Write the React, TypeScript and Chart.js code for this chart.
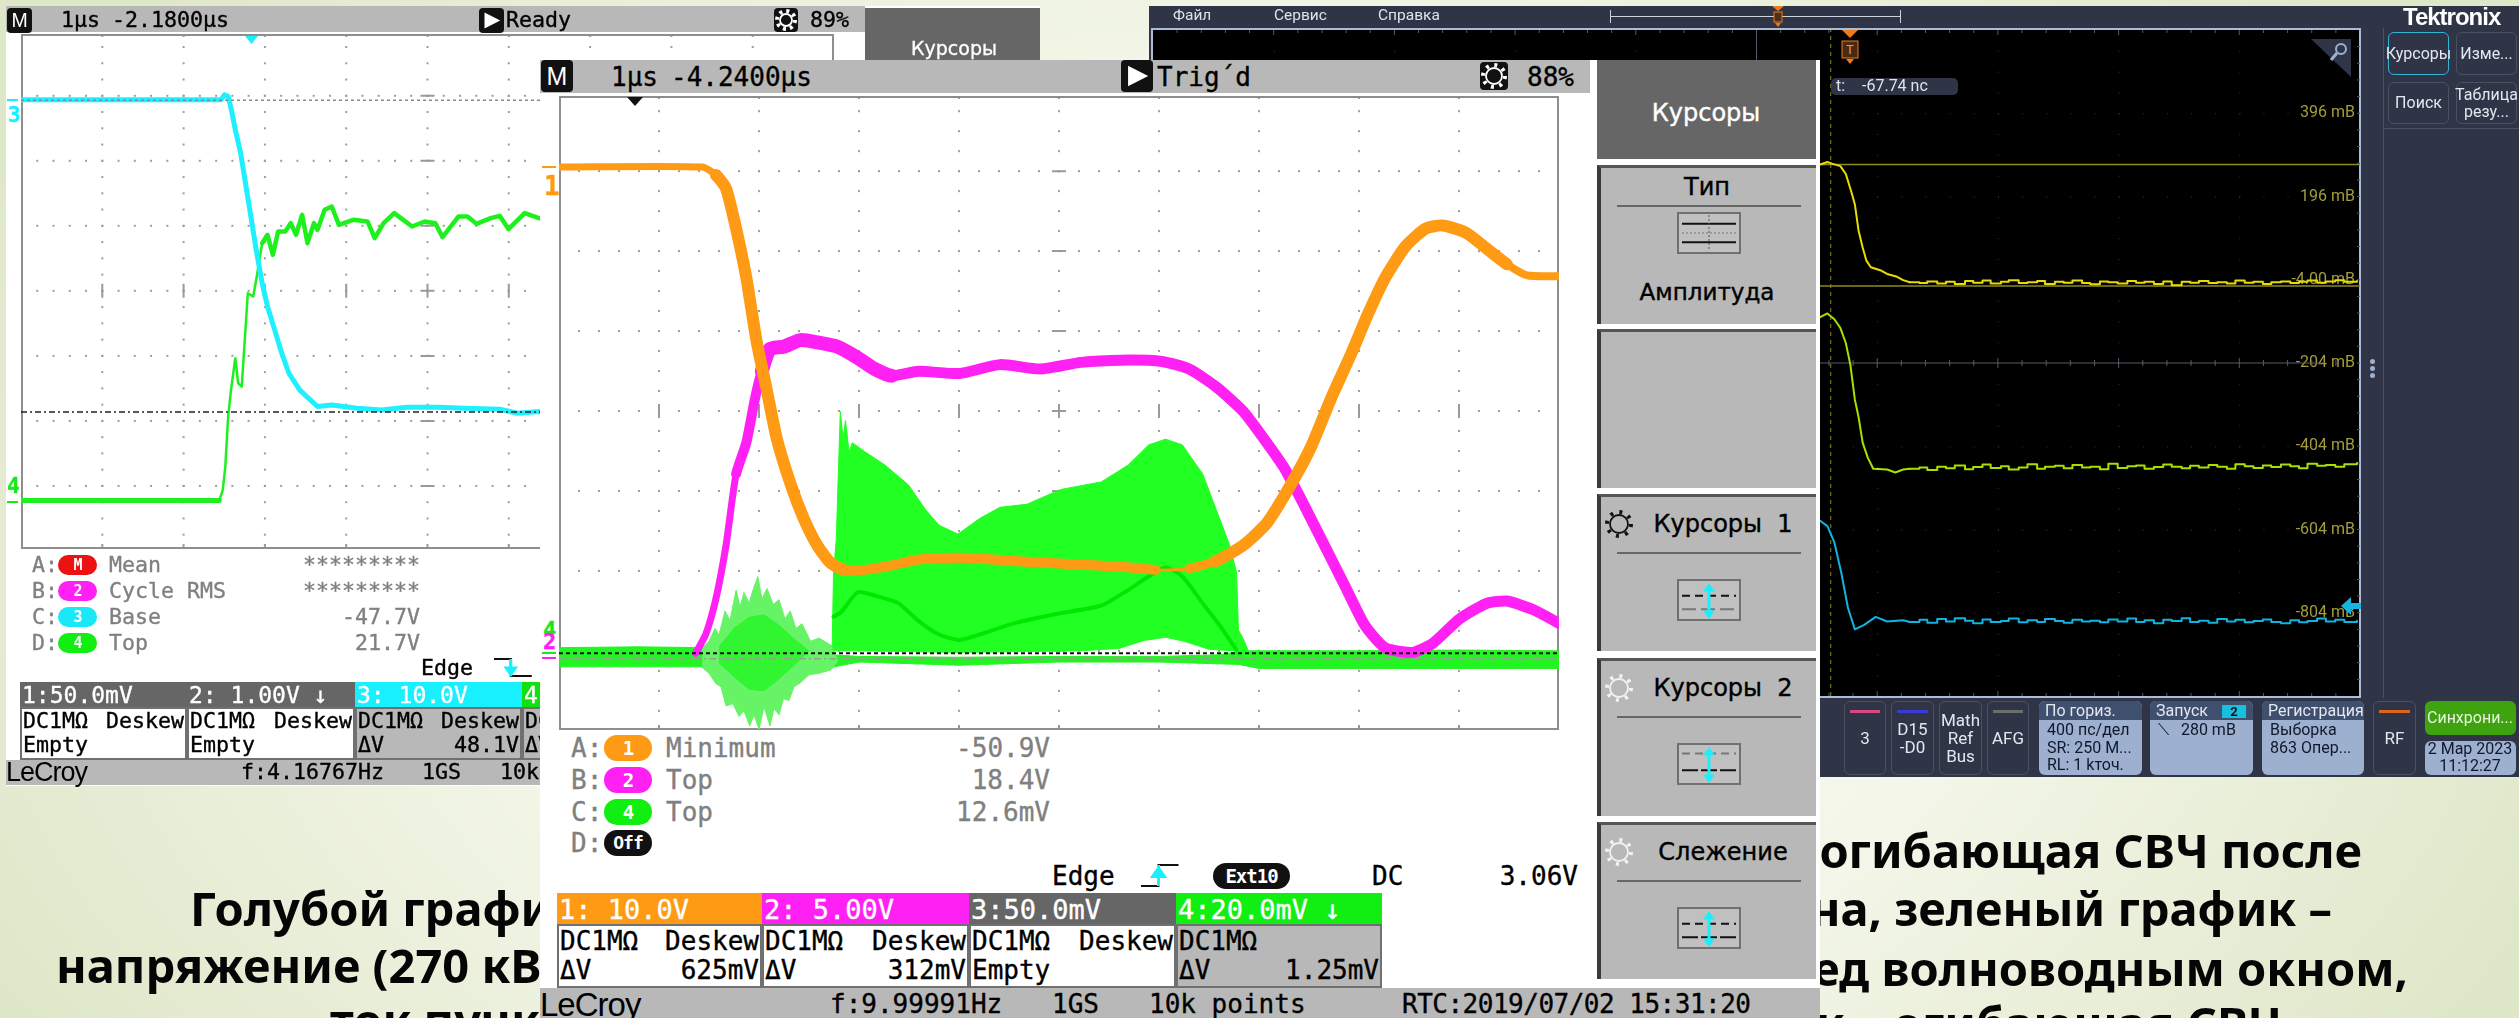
import React, { useEffect, useRef } from "react";
import { Chart, registerables } from "chart.js";
Chart.register(...registerables);

// ---------- left LeCroy scope: x in divisions, y in divisions from screen centre
const leftCyanX = [0, 2.46, 2.504, 2.548, 2.592, 2.636, 2.702, 2.768, 2.834, 2.9, 2.966, 3.032, 3.12, 3.207, 3.295, 3.427, 3.515, 3.647, 3.822, 4.13, 4.438, 4.745, 5.141, 5.448, 5.888, 6.107, 6.38];
const leftCyanY = [2.938, 2.938, 3.015, 2.99, 2.759, 2.477, 2.118, 1.605, 1.092, 0.579, 0.118, -0.241, -0.6, -0.959, -1.267, -1.523, -1.626, -1.779, -1.754, -1.805, -1.831, -1.79, -1.79, -1.805, -1.821, -1.882, -1.856];
const leftGreenX = [0, 2.439, 2.482, 2.513, 2.548, 2.583, 2.636, 2.671, 2.715, 2.75, 2.79, 2.856, 2.9, 2.966, 3.032, 3.098, 3.163, 3.251, 3.317, 3.383, 3.458, 3.524, 3.603, 3.647, 3.735, 3.822, 3.91, 4.086, 4.262, 4.35, 4.46, 4.591, 4.701, 4.811, 4.965, 5.097, 5.185, 5.382, 5.492, 5.602, 5.778, 5.888, 5.997, 6.195, 6.371];
const leftGreenY = [-3.226, -3.226, -3.062, -2.703, -1.933, -1.523, -1.036, -1.421, -1.472, -0.805, -0.036, -0.087, 0.221, 0.733, 0.862, 0.554, 0.913, 0.913, 1.041, 0.862, 1.169, 0.733, 1.041, 0.938, 1.246, 1.297, 1.015, 1.092, 1.067, 0.81, 1.041, 1.195, 1.092, 0.99, 1.067, 1.041, 0.826, 1.144, 1.144, 1.031, 1.118, 1.154, 0.949, 1.195, 1.118];
const leftCursorTop = 2.93;
const leftCursorLow = -1.865;

// ---------- centre LeCroy scope
const orangeX = [0, 1.433, 1.569, 1.67, 1.771, 1.873, 1.974, 2.076, 2.177, 2.312, 2.448, 2.583, 2.718, 2.853, 3.056, 3.327, 3.597, 4.003, 4.544, 5.085, 5.625, 5.963, 6.1, 6.3, 6.572, 6.843, 7.079, 7.316, 7.519, 7.722, 7.924, 8.093, 8.263, 8.465, 8.668, 8.837, 9.074, 9.277, 9.479, 9.682, 10];
const orangeY = [3.052, 3.052, 2.952, 2.785, 2.282, 1.669, 0.887, 0.273, -0.34, -0.898, -1.345, -1.68, -1.903, -1.987, -1.987, -1.931, -1.858, -1.836, -1.875, -1.914, -1.948, -1.987, -1.99, -1.97, -1.875, -1.68, -1.401, -0.926, -0.452, 0.162, 0.72, 1.222, 1.669, 2.059, 2.282, 2.321, 2.227, 2.031, 1.836, 1.696, 1.685];
const pinkX = [1.366, 1.467, 1.569, 1.67, 1.771, 1.873, 1.961, 2.028, 2.11, 2.245, 2.414, 2.583, 2.786, 2.989, 3.158, 3.327, 3.597, 4.003, 4.408, 4.814, 5.22, 5.625, 6.031, 6.302, 6.572, 6.843, 7.045, 7.248, 7.451, 7.654, 7.857, 8.06, 8.263, 8.533, 8.736, 9.006, 9.277, 9.479, 9.75, 10];
const pinkY = [-3.03, -2.796, -2.349, -1.68, -0.787, -0.396, 0.162, 0.497, 0.776, 0.804, 0.887, 0.859, 0.804, 0.664, 0.525, 0.441, 0.497, 0.469, 0.58, 0.525, 0.608, 0.636, 0.619, 0.525, 0.301, -0.006, -0.34, -0.703, -1.177, -1.68, -2.182, -2.684, -2.963, -3.019, -2.907, -2.6, -2.405, -2.377, -2.489, -2.656];
const rfTopX = [2.732, 2.745, 2.772, 2.813, 2.84, 2.865, 2.9, 2.934, 3.056, 3.259, 3.496, 3.665, 3.8, 3.989, 4.206, 4.408, 4.679, 5.017, 5.423, 5.693, 5.896, 6.065, 6.234, 6.437, 6.572, 6.707, 6.775, 6.795, 6.843, 6.91];
const rfTopY = [-2.935, -2.015, -1.624, -0.006, -0.34, -0.12, -0.51, -0.396, -0.508, -0.675, -0.926, -1.233, -1.429, -1.54, -1.345, -1.205, -1.166, -0.982, -0.887, -0.675, -0.424, -0.352, -0.424, -0.787, -1.233, -1.68, -2.015, -2.74, -2.852, -3.05];
const rfLowX = [6.91, 6.75, 6.5, 6.25, 6.065, 5.85, 5.6, 5.2, 4, 3, 2.74];
const rfLowY = [-3.1, -3.0, -2.98, -2.88, -2.83, -2.87, -2.97, -3.0, -3.02, -3.0, -3.0];
const rfMidX = [2.745, 2.82, 2.989, 3.191, 3.394, 3.597, 3.8, 4.003, 4.273, 4.544, 4.949, 5.423, 5.693, 5.896, 6.065, 6.234, 6.437, 6.64, 6.775];
const rfMidY = [-2.573, -2.517, -2.266, -2.321, -2.405, -2.628, -2.796, -2.863, -2.768, -2.656, -2.545, -2.433, -2.238, -2.07, -1.959, -2.07, -2.405, -2.74, -2.991];
const burstTopX = [1.433, 1.5, 1.56, 1.6, 1.66, 1.71, 1.771, 1.81, 1.85, 1.9, 1.95, 1.988, 2.03, 2.08, 2.143, 2.2, 2.26, 2.312, 2.37, 2.43, 2.515, 2.6, 2.732];
const burstTopY = [-2.963, -2.88, -2.72, -2.8, -2.5, -2.62, -2.24, -2.45, -2.27, -2.4, -2.2, -2.07, -2.35, -2.22, -2.42, -2.36, -2.6, -2.5, -2.72, -2.66, -2.88, -2.84, -2.94];
const burstLowX = [2.786, 2.718, 2.6, 2.5, 2.414, 2.35, 2.3, 2.245, 2.2, 2.15, 2.11, 2.05, 2.0, 1.95, 1.907, 1.85, 1.8, 1.74, 1.67, 1.62, 1.569, 1.5, 1.433];
const burstLowY = [-3.13, -3.24, -3.28, -3.3, -3.4, -3.45, -3.62, -3.6, -3.8, -3.72, -3.94, -3.7, -3.98, -3.8, -3.94, -3.75, -3.82, -3.66, -3.69, -3.45, -3.41, -3.28, -3.21];
const burstCoreX = [1.6, 1.75, 1.9, 2.05, 2.2, 2.35, 2.5, 2.35, 2.2, 2.05, 1.9, 1.75, 1.6];
const burstCoreY = [-2.95, -2.72, -2.58, -2.55, -2.68, -2.85, -3.0, -3.18, -3.35, -3.5, -3.48, -3.32, -3.15];
const bandTopX = [0, 0.8, 1.43, 1.5, 2.4, 2.74, 3, 4, 5, 6, 6.6, 6.85, 7, 8, 9, 10];
const bandTopY = [-2.96, -2.95, -2.96, -3.0, -3.02, -3.05, -3.07, -3.08, -3.07, -3.07, -3.05, -3.0, -3.0, -3.0, -2.99, -3.0];
const bandLowX = [10, 8, 7, 6.8, 6, 5, 4, 3, 2.75, 2.6, 2.4, 1.43, 0];
const bandLowY = [-3.22, -3.22, -3.22, -3.17, -3.14, -3.14, -3.18, -3.14, -3.2, -3.26, -3.3, -3.2, -3.2];
const centreCursorA = -3.03;
const centreCursorB = -3.1;

// ---------- Tektronix scope: x in ns, y in mV
const tekYellowX = [-97, -73, -58, -30, -12, 6, 18, 30, 44, 56, 71, 102, 125, 155, 178, 200];
const tekYellowY = [273, 279, 275, 269, 250, 208, 177, 115, 73, 42, 26, 19, 10, 4, -5, -10];
const tekLimeX = [-97, -73, -50, -30, -12, 3, 18, 30, 44, 61, 79, 125, 152, 178, 200];
const tekLimeY = [-94, -85, -99, -120, -156, -208, -292, -333, -396, -432, -458, -460, -467, -460, -458];
const tekBlueX = [-97, -73, -50, -27, -5, 18, 49, 87, 125, 178, 200];
const tekBlueY = [-583, -596, -635, -708, -792, -844, -833, -814, -825, -822, -826];
const tekTailNs = [200, 232, 258, 291, 320, 349, 383, 410, 441, 468, 502, 528, 561, 590, 622, 648, 681, 710, 739, 771, 798, 830, 858, 889, 921, 950, 978, 1009, 1040, 1068, 1101, 1129, 1158, 1190, 1219, 1251, 1279, 1310, 1339, 1370, 1398, 1430, 1461, 1490, 1518, 1550, 1579, 1610, 1640, 1682];
const tekYellowTail = [-10, -12, -8, -13, -9, -14, -7, -11, -6, -13, -9, -5, -12, -10, -7, -14, -9, -11, -6, -12, -15, -8, -10, -13, -7, -11, -9, -14, -8, -17, -9, -11, -7, -12, -10, -13, -6, -11, -9, -14, -10, -8, -12, -9, -6, -11, -8, -5, -9, -7];
const tekLimeTail = [-458, -455, -461, -453, -457, -450, -459, -454, -448, -456, -452, -460, -455, -447, -458, -453, -451, -457, -449, -455, -453, -459, -446, -456, -452, -450, -458, -454, -448, -453, -457, -451, -455, -449, -453, -458, -447, -452, -456, -450, -454, -448, -452, -457, -446, -451, -449, -453, -447, -444];
const tekBlueTail = [-826, -821, -828, -819, -825, -817, -823, -829, -820, -826, -824, -818, -827, -822, -826, -819, -824, -828, -821, -825, -823, -827, -820, -825, -818, -826, -822, -829, -821, -824, -817, -826, -823, -828, -819, -825, -821, -827, -824, -820, -826, -829, -822, -827, -824, -818, -825, -821, -826, -823];
const tekTickLabels = [396, 196, -4, -204, -404, -604, -804];
const tekCursorHigh = 273;
const tekCursorLow = -19;
const tekCursorTime = -62;

const pts = (xs: number[], ys: number[]) => xs.map((x, i) => ({ x, y: ys[i] }));
const MONO = '"DejaVu Sans Mono", monospace';
const TEK = 'Roboto, "Noto Sans", sans-serif';

const lecroyGrid = {
  id: "lecroyGrid",
  beforeDatasetsDraw(chart: any) {
    const { ctx, chartArea: a, scales } = chart;
    const { x, y } = scales;
    ctx.save();
    ctx.fillStyle = "#9d9d9d";
    for (let i = 1; i < 10; i++) {
      const px = x.getPixelForValue(i);
      for (let j = -16; j <= 16; j++) {
        const py = y.getPixelForValue(j / 4);
        if (py > a.top + 1 && py < a.bottom - 1) ctx.fillRect(px - 1, py - 1, 2, 2);
      }
    }
    for (let j = -4; j <= 4; j++) {
      const py = y.getPixelForValue(j);
      if (py < a.top + 2 || py > a.bottom - 2) continue;
      for (let i = 1; i < 50; i++) ctx.fillRect(x.getPixelForValue(i / 5) - 1, py - 1, 2, 2);
    }
    ctx.strokeStyle = "#9a9a9a";
    ctx.lineWidth = 2;
    ctx.beginPath();
    for (let i = 1; i < 10; i++) {
      const px = x.getPixelForValue(i);
      const py = y.getPixelForValue(0);
      ctx.moveTo(px, py - 7);
      ctx.lineTo(px, py + 7);
    }
    for (let j = -3; j <= 3; j++) {
      const px = x.getPixelForValue(5);
      const py = y.getPixelForValue(j);
      ctx.moveTo(px - 7, py);
      ctx.lineTo(px + 7, py);
    }
    for (let i = 1; i < 10; i++) {
      const px = x.getPixelForValue(i);
      ctx.moveTo(px, a.bottom - 5);
      ctx.lineTo(px, a.bottom);
      ctx.moveTo(px, a.top);
      ctx.lineTo(px, a.top + 3);
    }
    ctx.stroke();
    ctx.strokeStyle = "#8e8e8e";
    ctx.strokeRect(a.left + 1, a.top + 1, a.right - a.left - 2, a.bottom - a.top - 2);
    ctx.restore();
  },
};

const tekGrid = {
  id: "tekGrid",
  beforeDatasetsDraw(chart: any) {
    const { ctx, chartArea: a } = chart;
    const X = (d: number) => a.left + ((a.right - a.left) * d) / 10;
    const Y = (d: number) => a.top + ((a.bottom - a.top) * d) / 8;
    ctx.save();
    ctx.fillStyle = "#3a3a3a";
    for (let i = 1; i < 10; i++) for (let j = 1; j < 32; j++) ctx.fillRect(X(i), Y(j / 4), 1, 1);
    for (let j = 1; j < 8; j++) for (let i = 1; i < 50; i++) ctx.fillRect(X(i / 5), Y(j), 1, 1);
    ctx.strokeStyle = "#555a66";
    ctx.lineWidth = 1;
    ctx.beginPath();
    ctx.moveTo(a.left, Y(4));
    ctx.lineTo(X(9.7), Y(4));
    ctx.moveTo(X(5), a.top);
    ctx.lineTo(X(5), a.bottom);
    for (let i = 1; i < 50; i++) {
      const h = i % 5 === 0 ? 5 : 3;
      ctx.moveTo(X(i / 5), Y(4) - h);
      ctx.lineTo(X(i / 5), Y(4) + h);
      ctx.moveTo(X(i / 5), a.top);
      ctx.lineTo(X(i / 5), a.top + h);
      ctx.moveTo(X(i / 5), a.bottom);
      ctx.lineTo(X(i / 5), a.bottom - h);
    }
    for (let j = 1; j < 40; j++) {
      ctx.moveTo(a.right, Y(j / 5));
      ctx.lineTo(a.right - 3, Y(j / 5));
    }
    ctx.stroke();
    ctx.restore();
  },
};

const line = (data: any[], color: string, width: number, extra: any = {}) => ({
  type: "scatter",
  data,
  showLine: true,
  borderColor: color,
  backgroundColor: color,
  borderWidth: width,
  borderCapStyle: "round",
  borderJoinStyle: "round",
  pointRadius: 0,
  fill: false,
  ...extra,
});

const shape = (data: any[], color: string) => ({
  type: "scatter",
  data,
  showLine: true,
  borderColor: color,
  backgroundColor: color,
  borderWidth: 1,
  pointRadius: 0,
  fill: "shape",
});

const baseOptions = (xMin: number, xMax: number, yMin: number, yMax: number): any => ({
  animation: false,
  responsive: false,
  events: [],
  layout: { padding: 0 },
  plugins: { legend: { display: false }, tooltip: { enabled: false } },
  scales: {
    x: { type: "linear", min: xMin, max: xMax, display: false },
    y: { type: "linear", min: yMin, max: yMax, display: false },
  },
});

function Plot({ x, y, w, h, build }: { x: number; y: number; w: number; h: number; build: () => any }) {
  const ref = useRef<HTMLCanvasElement>(null);
  useEffect(() => {
    const c = new Chart(ref.current as any, build());
    return () => c.destroy();
  }, []);
  return <canvas ref={ref} width={w} height={h} style={{ position: "absolute", left: x, top: y, width: w, height: h }} />;
}

const buildLeft = () => ({
  type: "scatter",
  data: {
    datasets: [
      line([{ x: 0, y: leftCursorLow }, { x: 10, y: leftCursorLow }], "#222222", 1.5, { borderDash: [6, 3, 2, 3], borderCapStyle: "butt" }),
      line([{ x: 0, y: leftCursorTop }, { x: 10, y: leftCursorTop }], "#8a8a8a", 1.5, { borderDash: [3, 3], borderCapStyle: "butt" }),
      line(pts(leftCyanX, leftCyanY), "#1ff0ff", 5),
      line(pts(leftGreenX, leftGreenY), "#1ef01e", 4, {
        segment: { borderWidth: (c: any) => (c.p0.parsed.x < 2.42 ? 5 : c.p0.parsed.x < 2.95 ? 2.5 : 4.5) },
      }),
    ],
  },
  options: baseOptions(0, 10, -3.97, 3.95),
  plugins: [lecroyGrid],
});

const orangeWidth = (c: any) => {
  const x = c.p0.parsed.x;
  if (x < 1.5) return 7;
  if (x < 2.72) return 12;
  if (x < 5.9) return 10;
  if (x < 6.3) return 3;
  if (x < 6.55) return 9;
  if (x < 9.4) return 12;
  return 8;
};
const pinkWidth = (c: any) => {
  const x = c.p0.parsed.x;
  if (x < 1.7) return 7;
  if (x < 2.0) return 10;
  if (x < 3.2) return 14;
  return 11;
};

const buildCentre = () => ({
  type: "scatter",
  data: {
    datasets: [
      line([{ x: 0, y: centreCursorA }, { x: 10, y: centreCursorA }], "#111111", 2, { borderDash: [4, 3], borderCapStyle: "butt" }),
      line([{ x: 0, y: centreCursorB }, { x: 10, y: centreCursorB }], "#9a9a9a", 1.5, { borderDash: [7, 3, 2, 3], borderCapStyle: "butt" }),
      line(pts(orangeX, orangeY), "#ff9a14", 10, { tension: 0.2, segment: { borderWidth: orangeWidth } }),
      line(pts(pinkX, pinkY), "#ff20f4", 11, { tension: 0.2, segment: { borderWidth: pinkWidth } }),
      line(pts(rfMidX, rfMidY), "#00e800", 4, { tension: 0.2 }),
      shape([...pts(rfTopX, rfTopY), ...pts(rfLowX, rfLowY)], "#22ff22"),
      shape([...pts(burstCoreX, burstCoreY)], "#30f530"),
      shape([...pts(burstTopX, burstTopY), ...pts(burstLowX, burstLowY)], "#66f366"),
      shape([...pts(bandTopX, bandTopY), ...pts(bandLowX, bandLowY)], "#22f522"),
    ],
  },
  options: baseOptions(0, 10, -3.99, 3.94),
  plugins: [lecroyGrid],
});

const buildTek = () => {
  const o = baseOptions(-2308, 1692, -1004, 596);
  o.scales.y = {
    type: "linear",
    min: -1004,
    max: 596,
    position: "right",
    display: true,
    border: { display: false },
    grid: { display: false, drawTicks: false },
    afterFit: (s: any) => {
      s.width = 0;
      s.paddingTop = 0;
      s.paddingBottom = 0;
    },
    afterBuildTicks: (s: any) => {
      s.ticks = tekTickLabels.map((value) => ({ value }));
    },
    ticks: {
      mirror: true,
      padding: -5,
      color: "#a39d3c",
      autoSkip: false,
      font: { family: "Roboto", size: 16 },
      callback: (v: number) => `${v === -4 ? "-4.00" : v} mB`,
    },
  };
  return {
    type: "scatter",
    data: {
      datasets: [
        line(pts(tekYellowX, tekYellowY), "#e8dc00", 2),
        line(pts(tekTailNs, tekYellowTail), "#e8dc00", 2, { stepped: true }),
        line(pts(tekLimeX, tekLimeY), "#a8e000", 2),
        line(pts(tekTailNs, tekLimeTail), "#a8e000", 2, { stepped: true }),
        line(pts(tekBlueX, tekBlueY), "#10b4e0", 2),
        line(pts(tekTailNs, tekBlueTail), "#10b4e0", 2, { stepped: true }),
        line([{ x: -2308, y: tekCursorHigh }, { x: 1692, y: tekCursorHigh }], "#8d8a1e", 1.5),
        line([{ x: -2308, y: tekCursorLow }, { x: 1692, y: tekCursorLow }], "#8d8a1e", 1.5),
        line([{ x: tekCursorTime, y: -1004 }, { x: tekCursorTime, y: 596 }], "#8d8a1e", 1, { borderDash: [4, 4], borderCapStyle: "butt" }),
      ],
    },
    options: o,
    plugins: [tekGrid],
  };
};

function T({ x, y, s, c = "#000", f = MONO, w = 400, end, mid, children, extra }: any) {
  const tx = end ? "-100%" : mid ? "-50%" : "0";
  return (
    <div
      style={{
        position: "absolute",
        left: x,
        top: y,
        fontFamily: f,
        fontSize: s,
        fontWeight: w,
        color: c,
        lineHeight: 1,
        whiteSpace: "pre",
        transform: `translate(${tx},-50%)`,
        WebkitTextStroke: f === MONO ? "0.35px" : undefined,
        ...extra,
      }}
    >
      {children}
    </div>
  );
}

const Box = ({ x, y, w, h, c, extra, children }: any) => (
  <div style={{ position: "absolute", left: x, top: y, width: w, height: h, background: c, ...extra }}>{children}</div>
);

const MButton = ({ x, y, s }: any) => (
  <Box x={x} y={y} w={s} h={s} c="#111" extra={{ borderRadius: 4, color: "#fff", fontFamily: "Liberation Sans", fontSize: s * 0.78, textAlign: "center", lineHeight: `${s}px` }}>
    M
  </Box>
);

const PlayButton = ({ x, y, s }: any) => (
  <Box x={x} y={y} w={s} h={s} c="#111" extra={{ borderRadius: 4 }}>
    <svg width={s} height={s}>
      <polygon points={`${s * 0.22},${s * 0.18} ${s * 0.22},${s * 0.82} ${s * 0.85},${s * 0.5}`} fill="#fff" />
    </svg>
  </Box>
);

const Gear = ({ x, y, r, c, bg }: any) => (
  <svg style={{ position: "absolute", left: x - r - 4, top: y - r - 4 }} width={2 * r + 8} height={2 * r + 8}>
    {bg && <rect width={2 * r + 8} height={2 * r + 8} rx={4} fill={bg} />}
    <circle cx={r + 4} cy={r + 4} r={r - 2} fill="none" stroke={c} strokeWidth={1.8} />
    <circle cx={r + 4} cy={r + 4} r={r + 1} fill="none" stroke={c} strokeWidth={4} strokeDasharray={`3 ${(2 * Math.PI * (r + 1)) / 8 - 3}`} />
  </svg>
);

const Pill = ({ x, y, w, h, c, t, s }: any) => (
  <Box x={x} y={y} w={w} h={h} c={c} extra={{ borderRadius: h / 2, color: "#fff", fontFamily: MONO, fontSize: s, textAlign: "center", lineHeight: `${h}px`, fontWeight: 700, letterSpacing: -1 }}>
    {t}
  </Box>
);

const Trig = ({ x, y, falling, s }: any) => (
  <svg style={{ position: "absolute", left: x, top: y }} width={s * 1.8} height={s}>
    <path d={falling ? `M0 2 H${s * 0.8} V${s - 2} H${s * 1.8}` : `M0 ${s - 2} H${s * 0.7} V2 H${s * 1.5}`} stroke="#111" strokeWidth={2} fill="none" />
    <polygon points={falling ? `${s * 0.45},${s * 0.45} ${s * 1.15},${s * 0.45} ${s * 0.8},${s * 0.95}` : `${s * 0.35},${s * 0.6} ${s * 1.05},${s * 0.6} ${s * 0.7},${s * 0.1}`} fill="#18f0ff" />
    <line x1={s * (falling ? 0.8 : 0.7)} x2={s * (falling ? 0.8 : 0.7)} y1={2} y2={s - 2} stroke="#18f0ff" strokeWidth={3} />
  </svg>
);

function ChannelTable({ cols, xs, yH, yB, yE, s, fs }: any) {
  return (
    <>
      {cols.map((c: any, i: number) => (
        <React.Fragment key={i}>
          <Box x={xs[i]} y={yH} w={xs[i + 1] - xs[i]} h={yB - yH} c={c.head} />
          <Box x={xs[i]} y={yB} w={xs[i + 1] - xs[i]} h={yE - yB} c={c.body} extra={{ boxSizing: "border-box", border: "2px solid #707070" }} />
          <T x={xs[i] + 2} y={yH + (yB - yH) / 2} s={fs} c="#fff">{c.title}</T>
          <T x={xs[i] + 3} y={yB + (yE - yB) * 0.27} s={s}>DC1MΩ</T>
          {c.deskew && <T x={xs[i + 1] - 3} y={yB + (yE - yB) * 0.27} s={s} end>Deskew</T>}
          <T x={xs[i] + 3} y={yB + (yE - yB) * 0.72} s={s}>{c.a}</T>
          {c.b && <T x={xs[i + 1] - 3} y={yB + (yE - yB) * 0.72} s={s} end>{c.b}</T>}
        </React.Fragment>
      ))}
    </>
  );
}

function MiniIcon({ x, y, w, h, kind }: any) {
  return (
    <svg style={{ position: "absolute", left: x, top: y }} width={w} height={h}>
      <rect x={1} y={1} width={w - 2} height={h - 2} fill="#c0c0c0" stroke="#707070" strokeWidth={2} />
      {kind === "type" && (
        <>
          <line x1={5} x2={w - 5} y1={h * 0.28} y2={h * 0.28} stroke="#111" strokeWidth={2} />
          <line x1={5} x2={w - 5} y1={h * 0.72} y2={h * 0.72} stroke="#111" strokeWidth={2} />
          <line x1={5} x2={w - 5} y1={h * 0.5} y2={h * 0.5} stroke="#777" strokeDasharray="2 2" />
          <line x1={w / 2} x2={w / 2} y1={3} y2={h - 3} stroke="#555" strokeDasharray="2 2" />
        </>
      )}
      {kind !== "type" && (
        <>
          <line x1={5} x2={w - 5} y1={h * (kind === 2 ? 0.25 : 0.4)} y2={h * (kind === 2 ? 0.25 : 0.4)} stroke={kind === 2 ? "#777" : "#111"} strokeWidth={2} strokeDasharray="8 5" />
          <line x1={5} x2={w - 5} y1={h * (kind === 2 ? 0.65 : 0.72)} y2={h * (kind === 2 ? 0.65 : 0.72)} stroke={kind === 1 ? "#777" : "#111"} strokeWidth={2} strokeDasharray={kind === 1 ? "14 5" : "16 3"} />
          <line x1={w / 2} x2={w / 2} y1={h * 0.2} y2={h * 0.85} stroke="#18f0ff" strokeWidth={3} />
          <polygon points={`${w / 2 - 6},${h * 0.3} ${w / 2 + 6},${h * 0.3} ${w / 2},${h * 0.1}`} fill="#18f0ff" />
          <polygon points={`${w / 2 - 6},${h * 0.75} ${w / 2 + 6},${h * 0.75} ${w / 2},${h * 0.95}`} fill="#18f0ff" />
        </>
      )}
    </svg>
  );
}

function Panel({ y1, y2, title, icon, under, gear }: any) {
  const x = 1597;
  const w = 219;
  const stroke = { WebkitTextStroke: "0.4px" };
  return (
    <>
      <Box x={x} y={y1} w={w} h={y2 - y1} c="#b8b8b8" extra={{ borderLeft: "4px solid #3a3a3a", borderTop: "3px solid #555", boxSizing: "border-box" }} />
      {title && <T x={gear ? x + 126 : x + 110} y={y1 + (gear ? 30 : 22)} s={24} f='"DejaVu Sans"' extra={stroke} mid>{title}</T>}
      {icon && <Box x={x + 20} y={y1 + (gear ? 58 : 40)} w={184} h={2} c="#666" />}
      {icon && <MiniIcon x={x + 80} y={y1 + (gear ? 85 : 47)} w={64} h={42} kind={icon} />}
      {under && <T x={x + 110} y={y1 + 127} s={23} f='"DejaVu Sans"' extra={stroke} mid>{under}</T>}
      {gear && <Gear x={x + 22} y={y1 + 30} r={11} c={gear} />}
    </>
  );
}

function TekBtn({ x1, x2, y1, y2, line: lc, lines, border = "#4a5163", s = 16 }: any) {
  return (
    <>
      <Box x={x1} y={y1} w={x2 - x1} h={y2 - y1} c="transparent" extra={{ boxSizing: "border-box", border: `1px solid ${border}`, borderRadius: 6 }} />
      {lc && <Box x={x1 + 6} y={y1 + 9} w={x2 - x1 - 12} h={3} c={lc} />}
      {lines.map((t: string, i: number) => (
        <T key={i} x={(x1 + x2) / 2} y={(y1 + y2) / 2 + (i - (lines.length - 1) / 2) * (s + 1)} s={s} c="#e3e7ef" f={TEK} mid>{t}</T>
      ))}
    </>
  );
}

function TekCard({ x1, x2, title, lines, badge }: any) {
  return (
    <>
      <Box x={x1} y={701} w={x2 - x1} h={74} c="#9db0d0" extra={{ borderRadius: 6 }} />
      <Box x={x1} y={701} w={x2 - x1} h={19} c="#3f4f6e" extra={{ borderRadius: "6px 6px 0 0" }} />
      <T x={x1 + 6} y={711} s={16} c="#e3e7ef" f={TEK}>{title}</T>
      {badge && <Box x={x2 - 31} y={705} w={24} h={13} c="#18c0de" extra={{ color: "#111", fontFamily: TEK, fontSize: 13, textAlign: "center", lineHeight: "13px", fontWeight: 700 }}>{badge}</Box>}
      {lines.map((t: string, i: number) => (
        <T key={i} x={x1 + 8} y={730 + i * 17.5} s={16} c="#10182c" f={TEK}>{t}</T>
      ))}
    </>
  );
}

export default function App() {
  const bold = { s: 47, f: '"Noto Sans", sans-serif', w: 700, c: "#050505" };
  return (
    <div
      style={{
        position: "fixed",
        left: 0,
        top: 0,
        width: 2519,
        height: 1018,
        overflow: "hidden",
        background: "radial-gradient(ellipse 1400px 900px at 1240px 560px, #f8faf2 0%, #f3f6e8 55%, #dfe7c9 100%)",
      }}
    >
      {/* caption text */}
      <T x={190} y={908} {...bold}>Голубой график</T>
      <T x={56} y={965} {...bold}>напряжение (270 кВ</T>
      <T x={330} y={1020} {...bold}>ток пучка</T>
      <T x={2362} y={850} {...bold} end>огибающая СВЧ после</T>
      <T x={2332} y={908} {...bold} end>на, зеленый график –</T>
      <T x={2408} y={968} {...bold} end>ед волноводным окном,</T>
      <T x={2282} y={1023} {...bold} end>к – огибающая СВЧ</T>

      {/* Tektronix */}
      <Box x={1149} y={6} w={1370} h={771} c="#2f3547" />
      <Box x={1151} y={28} w={1210} h={670} c="#000" extra={{ boxSizing: "border-box", border: "2px solid #a9bcd8" }} />
      <Plot x={1153} y={30} w={1207} h={666} build={buildTek} />
      <T x={1173} y={16} s={15.5} c="#dfe3ea" f={TEK}>Файл</T>
      <T x={1274} y={16} s={15.5} c="#dfe3ea" f={TEK}>Сервис</T>
      <T x={1378} y={16} s={15.5} c="#dfe3ea" f={TEK}>Справка</T>
      <Box x={1610} y={16} w={291} h={1} c="#cdd3de" />
      <Box x={1610} y={10} w={1} h={13} c="#cdd3de" />
      <Box x={1900} y={10} w={1} h={13} c="#cdd3de" />
      <svg style={{ position: "absolute", left: 1771, top: 6 }} width={14} height={22}>
        <polygon points="1,0 13,0 7,5" fill="#ef7a1a" />
        <rect x={3} y={6} width={8} height={10} fill="#50301a" stroke="#ef7a1a" />
        <polygon points="4,17 10,17 7,21" fill="#ef7a1a" />
      </svg>
      <svg style={{ position: "absolute", left: 1841, top: 30 }} width={18} height={36}>
        <polygon points="1,0 17,0 9,8" fill="#ef7a1a" />
        <rect x={1} y={11} width={16} height={17} fill="#4a2a10" stroke="#ef7a1a" />
        <text x={9} y={24} fontSize={13} textAnchor="middle" fill="#ef9a3a" fontFamily="Roboto">T</text>
        <polygon points="5,29 13,29 9,34" fill="#ef7a1a" />
      </svg>
      <Box x={1831} y={78} w={127} h={17} c="#2f3547" extra={{ borderRadius: 5 }} />
      <T x={1836} y={86} s={16} c="#dfe3ea" f={TEK}>t:</T>
      <T x={1862} y={86} s={16} c="#dfe3ea" f={TEK}>-67.74 nc</T>
      <svg style={{ position: "absolute", left: 2311, top: 39 }} width={40} height={38}>
        <polygon points="0,0 40,0 40,38" fill="#2f3547" />
        <circle cx={30} cy={10} r={5} fill="none" stroke="#9db0d0" strokeWidth={2} />
        <line x1={26} y1={14} x2={20} y2={21} stroke="#9db0d0" strokeWidth={3} />
      </svg>
      <svg style={{ position: "absolute", left: 2341, top: 596 }} width={20} height={20}>
        <polygon points="0,10 10,1 10,7 20,7 20,13 10,13 10,19" fill="#18b4e0" />
      </svg>
      <T x={2403} y={17} s={24} c="#fff" f='"Liberation Sans"' w={700} extra={{ letterSpacing: -1 }}>Tektronix</T>
      <Box x={2383} y={28} w={1} h={670} c="#4a5163" />
      <Box x={2384} y={128} w={135} h={1} c="#4a5163" />
      <Box x={2370} y={359} w={5} h={5} c="#9db0d0" extra={{ borderRadius: 3 }} />
      <Box x={2370} y={366} w={5} h={5} c="#9db0d0" extra={{ borderRadius: 3 }} />
      <Box x={2370} y={373} w={5} h={5} c="#9db0d0" extra={{ borderRadius: 3 }} />
      <TekBtn x1={2388} x2={2449} y1={32} y2={75} lines={["Курсоры"]} border="#2fb4d8" />
      <TekBtn x1={2456} x2={2517} y1={32} y2={75} lines={["Изме..."]} />
      <TekBtn x1={2388} x2={2449} y1={82} y2={124} lines={["Поиск"]} />
      <TekBtn x1={2456} x2={2517} y1={82} y2={124} lines={["Таблица", "резу..."]} />
      <TekBtn x1={1844} x2={1886} y1={701} y2={775} line="#d8487e" lines={["3"]} s={17} />
      <TekBtn x1={1891} x2={1934} y1={701} y2={775} line="#3a3ad8" lines={["D15", "-D0"]} s={17} />
      <TekBtn x1={1939} x2={1982} y1={701} y2={775} lines={["Math", "Ref", "Bus"]} s={17} />
      <TekBtn x1={1987} x2={2029} y1={701} y2={775} line="#6b6f6a" lines={["AFG"]} s={17} />
      <TekCard x1={2039} x2={2142} title="По гориз." lines={["400 пс/дел", "SR: 250 М...", "RL: 1 kточ."]} />
      <TekCard x1={2150} x2={2253} title="Запуск" lines={["⟍   280 mB"]} badge="2" />
      <TekCard x1={2262} x2={2364} title="Регистрация" lines={["Выборка", "863 Опер..."]} />
      <TekBtn x1={2373} x2={2416} y1={701} y2={775} line="#e0641c" lines={["RF"]} s={17} />
      <Box x={2425} y={701} w={91} h={34} c="#3fa30f" extra={{ borderRadius: 6 }} />
      <T x={2470} y={718} s={16} c="#e8f5e0" f={TEK} mid>Синхрони...</T>
      <Box x={2425} y={741} w={91} h={34} c="#9db0d0" extra={{ borderRadius: 6 }} />
      <T x={2470} y={749} s={16} c="#10182c" f={TEK} mid>2 Мар 2023</T>
      <T x={2470} y={766} s={16} c="#10182c" f={TEK} mid>11:12:27</T>

      {/* left LeCroy */}
      <Box x={6} y={6} w={1034} h={780} c="#fff" />
      <Box x={6} y={6} w={859} h={26} c="#b8b8b8" />
      <Box x={865} y={8} w={175} h={55} c="#666" />
      <T x={954} y={48} s={19} c="#fff" f='"DejaVu Sans"' extra={{ WebkitTextStroke: "0.3px" }} mid>Курсоры</T>
      <MButton x={7} y={8} s={25} />
      <T x={61} y={20} s={21.6}>1µs</T>
      <T x={112} y={20} s={21.6}>-2.1800µs</T>
      <PlayButton x={479} y={8} s={25} />
      <T x={506} y={20} s={21.6}>Ready</T>
      <Gear x={786} y={20} r={8} c="#fff" bg="#111" />
      <T x={810} y={20} s={21.6}>89%</T>
      <Plot x={21} y={34} w={813} h={515} build={buildLeft} />
      <svg style={{ position: "absolute", left: 245, top: 36 }} width={13} height={9}><polygon points="0,0 13,0 6.5,8" fill="#18f0ff" /></svg>
      <Box x={7} y={99} w={11} h={2} c="#18f0ff" />
      <T x={8} y={115} s={21} c="#18f0ff" w={700}>3</T>
      <T x={7} y={486} s={21} c="#18e818" w={700}>4</T>
      <Box x={7} y={501} w={11} h={2} c="#18e818" />
      {[
        ["A:", "#ee1111", "M", "Mean", "*********", 565],
        ["B:", "#ff20f4", "2", "Cycle RMS", "*********", 591],
        ["C:", "#18e8f8", "3", "Base", "-47.7V", 617],
        ["D:", "#11ee11", "4", "Top", "21.7V", 643],
      ].map((r: any) => (
        <React.Fragment key={r[0]}>
          <T x={32} y={r[5]} s={21.6} c="#808080">{r[0]}</T>
          <Pill x={58} y={r[5] - 10} w={39} h={20} c={r[1]} t={r[2]} s={15} />
          <T x={109} y={r[5]} s={21.6} c="#808080">{r[3]}</T>
          <T x={420} y={r[5]} s={21.6} c="#808080" end>{r[4]}</T>
        </React.Fragment>
      ))}
      <T x={421} y={668} s={21.6}>Edge</T>
      <Trig x={494} y={657} s={21} falling />
      <ChannelTable
        xs={[20, 187, 355, 522, 689]}
        yH={682}
        yB={707}
        yE={760}
        s={21.6}
        fs={23}
        cols={[
          { head: "#666", body: "#fff", title: "1:50.0mV", a: "Empty", deskew: true },
          { head: "#666", body: "#fff", title: "2: 1.00V ↓", a: "Empty", deskew: true },
          { head: "#18f0ff", body: "#b8b8b8", title: "3: 10.0V", a: "ΔV", b: "48.1V", deskew: true },
          { head: "#11e011", body: "#b8b8b8", title: "4: 20.0mV", a: "ΔV" },
        ]}
      />
      <Box x={6} y={760} w={534} h={25} c="#b8b8b8" />
      <T x={6} y={772} s={27} f='"Liberation Sans"' extra={{ letterSpacing: -1 }}>LeCroy</T>
      <T x={241} y={772} s={21.6}>f:4.16767Hz</T>
      <T x={422} y={772} s={21.6}>1GS</T>
      <T x={500} y={772} s={21.6}>10k</T>

      {/* centre LeCroy */}
      <Box x={540} y={60} w={1280} h={958} c="#fff" />
      <Box x={540} y={60} w={1050} h={33} c="#b8b8b8" />
      <MButton x={541} y={60} s={32} />
      <T x={611} y={77} s={26}>1µs</T>
      <T x={671} y={77} s={26}>-4.2400µs</T>
      <PlayButton x={1121} y={60} s={32} />
      <T x={1157} y={77} s={26}>Trig´d</T>
      <Gear x={1494} y={76} r={10} c="#fff" bg="#111" />
      <T x={1527} y={77} s={26}>88%</T>
      <Plot x={559} y={96} w={1000} h={634} build={buildCentre} />
      <svg style={{ position: "absolute", left: 627, top: 97 }} width={16} height={10}><polygon points="0,0 16,0 8,9" fill="#111" /></svg>
      <Box x={542} y={166} w={14} h={2} c="#ff9a14" />
      <T x={544} y={186} s={26} c="#ff9a14" w={700}>1</T>
      <T x={543} y={630} s={22} c="#18e818" w={700}>4</T>
      <T x={543} y={642} s={22} c="#ff20f4" w={700}>2</T>
      <Box x={542} y={652} w={14} h={2} c="#18e818" />
      <Box x={542} y={657} w={14} h={2} c="#ff20f4" />
      {[
        ["A:", "#ff9a14", "1", "Minimum", "-50.9V", 748],
        ["B:", "#ff20f4", "2", "Top", "18.4V", 780],
        ["C:", "#11ee11", "4", "Top", "12.6mV", 812],
        ["D:", "#111", "Off", "", "", 843],
      ].map((r: any) => (
        <React.Fragment key={r[0]}>
          <T x={571} y={r[5]} s={26} c="#808080">{r[0]}</T>
          <Pill x={604} y={r[5] - 13} w={48} h={26} c={r[1]} t={r[2]} s={r[2] === "Off" ? 18 : 19} />
          <T x={666} y={r[5]} s={26} c="#808080">{r[3]}</T>
          <T x={1050} y={r[5]} s={26} c="#808080" end>{r[4]}</T>
        </React.Fragment>
      ))}
      <T x={1052} y={876} s={26}>Edge</T>
      <Trig x={1141} y={863} s={25} />
      <Pill x={1213} y={863} w={77} h={26} c="#111" t="Ext10" s={19} />
      <T x={1372} y={876} s={26}>DC</T>
      <T x={1578} y={876} s={26} end>3.06V</T>
      <ChannelTable
        xs={[557, 762, 969, 1176, 1382]}
        yH={893}
        yB={924}
        yE={988}
        s={26}
        fs={27}
        cols={[
          { head: "#ff9a14", body: "#fff", title: "1: 10.0V", a: "ΔV", b: "625mV", deskew: true },
          { head: "#ff20f4", body: "#fff", title: "2: 5.00V", a: "ΔV", b: "312mV", deskew: true },
          { head: "#666", body: "#fff", title: "3:50.0mV", a: "Empty", deskew: true },
          { head: "#11ee11", body: "#b8b8b8", title: "4:20.0mV ↓", a: "ΔV", b: "1.25mV" },
        ]}
      />
      <Box x={540} y={988} w={1280} h={30} c="#b8b8b8" />
      <T x={540} y={1004} s={33} f='"Liberation Sans"' extra={{ letterSpacing: -1 }}>LeCroy</T>
      <T x={830} y={1004} s={26}>f:9.99991Hz</T>
      <T x={1052} y={1004} s={26}>1GS</T>
      <T x={1149} y={1004} s={26}>10k points</T>
      <T x={1402} y={1004} s={26} extra={{ letterSpacing: -0.5 }}>RTC:2019/07/02 15:31:20</T>
      <Box x={1597} y={60} w={219} h={99} c="#666" />
      <T x={1706} y={113} s={24} c="#fff" f='"DejaVu Sans"' extra={{ WebkitTextStroke: "0.4px" }} mid>Курсоры</T>
      <Panel y1={165} y2={324} title="Тип" icon="type" under="Амплитуда" />
      <Panel y1={329} y2={488} />
      <Panel y1={494} y2={651} title="Курсоры  1" icon={1} gear="#111" />
      <Panel y1={658} y2={816} title="Курсоры  2" icon={2} gear="#f2f2f2" />
      <Panel y1={822} y2={979} title="Слежение" icon={3} gear="#f2f2f2" />
    </div>
  );
}
